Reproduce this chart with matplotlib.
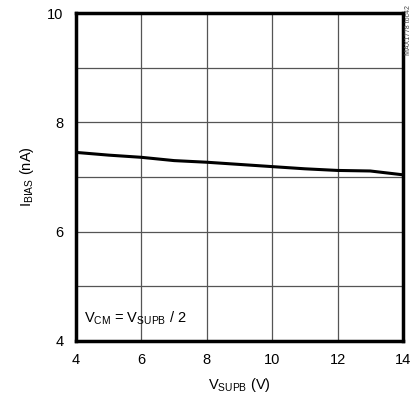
import matplotlib
matplotlib.use('Agg')
import matplotlib.pyplot as plt

plt.rcParams['font.family'] = ['Liberation Sans Narrow', 'Liberation Sans', 'DejaVu Sans']
plt.rcParams['mathtext.fontset'] = 'custom'
plt.rcParams['mathtext.rm'] = 'Liberation Sans'

# data
vsupb = [4, 5, 6, 7, 8, 9, 10, 11, 12, 13, 14]
ibias = [7.45, 7.40, 7.36, 7.30, 7.27, 7.23, 7.19, 7.15, 7.12, 7.11, 7.04]

xticks = [4, 6, 8, 10, 12, 14]
yticks = [4, 6, 8, 10]

fig = plt.figure(figsize=(4.12, 4.0), dpi=100)
ax = fig.add_axes([0.1845, 0.1475, 0.7935, 0.82])

ax.plot(vsupb, ibias, color='black', lw=2.2)

ax.set_xlim(4, 14)
ax.set_ylim(4, 10)
ax.set_xticks(xticks)
ax.set_yticks(range(4, 11))
ax.set_yticklabels([str(v) if v in yticks else '' for v in range(4, 11)])
ax.tick_params(length=0, labelsize=10.5, pad=9)
ax.grid(True, color='#555555', lw=0.9)
for s in ax.spines.values():
    s.set_linewidth(2.5)

ax.set_xlabel(r'V$_{\mathregular{SUPB}}$ (V)', fontsize=10.5, labelpad=6)
ax.set_ylabel(r'I$_{\mathregular{BIAS}}$ (nA)', fontsize=10.5, labelpad=8)

ax.text(4.25, 4.35, r'V$_{\mathregular{CM}}$ = V$_{\mathregular{SUPB}}$ / 2', fontsize=10.5)
fig.text(0.992, 0.988, 'MAX1778 toc42', rotation=90, fontsize=5, color='#444444',
         ha='center', va='top')

fig.savefig('out.png', dpi=100)
